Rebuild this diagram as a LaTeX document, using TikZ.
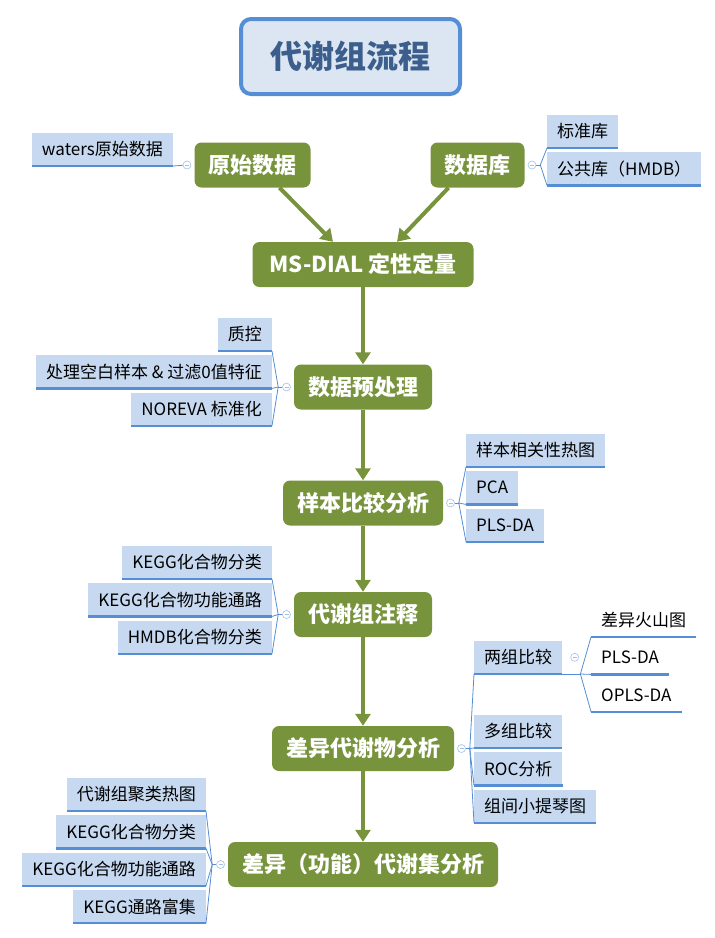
\documentclass[tikz,border=0pt]{standalone}
\usepackage{fontspec}
\setmainfont{Noto Sans CJK SC}
\definecolor{mgreen}{HTML}{77933C}
\definecolor{lfill}{HTML}{C6D9F1}
\definecolor{lline}{HTML}{558ED5}
\definecolor{tfill}{HTML}{DCE6F2}
\definecolor{ttext}{HTML}{3B5E8C}
\usetikzlibrary{positioning,calc,arrows.meta}

\begin{document}
\begin{tikzpicture}
    [x=1pt,y=-1pt,
     title/.style={draw=lline,line width=4pt,fill=tfill,rounded corners=10pt,
       minimum width=219pt,minimum height=75pt,text=ttext,
       font=\fontsize{32}{32}\selectfont\bfseries},
     main/.style={fill=mgreen,rounded corners=7pt,minimum height=45pt,inner xsep=14pt,
       text=white,font=\fontsize{22}{22}\selectfont\bfseries},
     uline/.style={draw=lline,line width=2.5pt},
     leaf/.style={fill=lfill,minimum height=33pt,inner xsep=10pt,
       font=\fontsize{17}{17}\selectfont,
       append after command={(\tikzlastnode.south west) edge[uline] (\tikzlastnode.south east)}},
     bare/.style={leaf,fill=none},
     conn/.style={draw=lline,line width=0.8pt},
     fold/.style={circle,draw=lline!55,fill=white,line width=0.6pt,inner sep=0pt,minimum size=8pt,
       path picture={\draw[lline!55,line width=0.6pt]
         ([xshift=2pt]path picture bounding box.west) -- ([xshift=-2pt]path picture bounding box.east);}},
     flow/.style={draw=mgreen,line width=4pt,-{Triangle[length=12pt,width=15pt]}}]

  \useasboundingbox (0,0) rectangle (715,938);

  \node [title] (ttl) at (350.5,56.5) {代谢组流程};

  \node [main,minimum width=115pt] (raw) at (252.5,165) {原始数据};
  \node [main,minimum width=93pt] (db) at (477.5,165) {数据库};
  \node [main,minimum width=221pt] (msd) at (363,264.5) {MS-DIAL 定性定量};
  \node [main,minimum width=137pt] (pre) at (363,387) {数据预处理};
  \node [main,minimum width=160pt] (cmp) at (363,503) {样本比较分析};
  \node [main,minimum width=137pt] (ann) at (363,614.5) {代谢组注释};
  \node [main,minimum width=181pt] (dif) at (363,748.5) {差异代谢物分析};
  \node [main,minimum width=269pt] (set) at (363,864.5) {差异（功能）代谢集分析};

  \node [leaf,anchor=south east] (wat) at (173,166) {waters原始数据};

  \node [leaf,anchor=south west] (std) at (547,148) {标准库};
  \node [leaf,below right=4pt and 0pt of std.south west] (pub) {公共库（HMDB）};

  \node [leaf,anchor=south east] (qc) at (272,351) {质控};
  \node [leaf,below left=4pt and 0pt of qc.south east] (blank) {处理空白样本 \& 过滤0值特征};
  \node [leaf,below left=4pt and 0pt of blank.south east] (norm) {NOREVA 标准化};

  \node [leaf,anchor=south west] (heat) at (466,467) {样本相关性热图};
  \node [leaf,below right=4pt and 0pt of heat.south west] (pca) {PCA};
  \node [leaf,below right=4pt and 0pt of pca.south west] (plsda) {PLS-DA};

  \node [leaf,anchor=south east] (kc) at (272,579) {KEGG化合物分类};
  \node [leaf,below left=4pt and 0pt of kc.south east] (kp) {KEGG化合物功能通路};
  \node [leaf,below left=4pt and 0pt of kp.south east] (hc) {HMDB化合物分类};

  \node [leaf,anchor=south west] (two) at (474,674) {两组比较};
  \node [leaf,anchor=south west] (multi) at (474,748) {多组比较};
  \node [leaf,below right=4pt and 0pt of multi.south west] (roc) {ROC分析};
  \node [leaf,below right=4pt and 0pt of roc.south west] (vio) {组间小提琴图};

  \node [bare,anchor=south west] (vol) at (591,637) {差异火山图};
  \node [bare,below right=4pt and 0pt of vol.south west] (pls2) {PLS-DA};
  \node [bare,below right=4pt and 0pt of pls2.south west] (opls) {OPLS-DA};

  \node [leaf,anchor=south east] (hm) at (206,811) {代谢组聚类热图};
  \node [leaf,below left=4pt and 0pt of hm.south east] (kc2) {KEGG化合物分类};
  \node [leaf,below left=4pt and 0pt of kc2.south east] (kp2) {KEGG化合物功能通路};
  \node [leaf,below left=4pt and 0pt of kp2.south east] (ke) {KEGG通路富集};

  \node [fold,left=3pt of raw] (f-raw) {};
  \node [fold,right=3pt of db] (f-db) {};
  \node [fold,left=3pt of pre] (f-pre) {};
  \node [fold,right=3pt of cmp] (f-cmp) {};
  \node [fold,left=3pt of ann] (f-ann) {};
  \node [fold,right=3pt of dif] (f-dif) {};
  \node [fold,right=8pt of two] (f-two) {};
  \node [fold,left=3pt of set] (f-set) {};

  \coordinate (j-db) at ($(f-db.east)+(4pt,0)$);
  \coordinate (j-pre) at ($(f-pre.west)+(-4pt,0)$);
  \coordinate (j-cmp) at ($(f-cmp.east)+(4pt,0)$);
  \coordinate (j-ann) at ($(f-ann.west)+(-4pt,0)$);
  \coordinate (j-dif) at ($(f-dif.east)+(4pt,0)$);
  \coordinate (j-two) at ($(two.south east)+(18pt,0)$);
  \coordinate (j-set) at ($(f-set.west)+(-4pt,0)$);

  \draw [conn] (wat.south east) -- (f-raw);
  \draw [conn] (f-db) -- (j-db);
  \foreach \c in {std,pub} \draw [conn] (j-db) -- (\c.south west);
  \draw [conn] (f-pre) -- (j-pre);
  \foreach \c in {qc,blank,norm} \draw [conn] (j-pre) -- (\c.south east);
  \draw [conn] (f-cmp) -- (j-cmp);
  \foreach \c in {heat,pca,plsda} \draw [conn] (j-cmp) -- (\c.south west);
  \draw [conn] (f-ann) -- (j-ann);
  \foreach \c in {kc,kp,hc} \draw [conn] (j-ann) -- (\c.south east);
  \draw [conn] (f-dif) -- (j-dif);
  \foreach \c in {two,multi,roc,vio} \draw [conn] (j-dif) -- (\c.south west);
  \draw [conn] (two.south east) -- (j-two);
  \foreach \c in {vol,pls2,opls} \draw [conn] (j-two) -- (\c.south west);
  \draw [conn] (f-set) -- (j-set);
  \foreach \c in {hm,kc2,kp2,ke} \draw [conn] (j-set) -- (\c.south east);

  \draw [flow] ($(raw.south)+(27pt,0)$) -- ($(msd.north)+(-30pt,0)$);
  \draw [flow] ($(db.south)+(-29pt,0)$) -- ($(msd.north)+(34pt,0)$);
  \draw [flow] (msd) -- (pre);
  \draw [flow] (pre) -- (cmp);
  \draw [flow] (cmp) -- (ann);
  \draw [flow] (ann) -- (dif);
  \draw [flow] (dif) -- (set);
\end{tikzpicture}
\end{document}
